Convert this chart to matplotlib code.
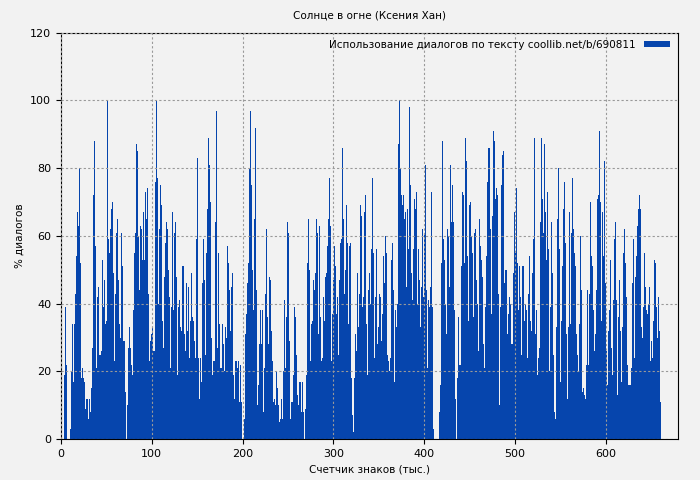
import numpy as np
import matplotlib.pyplot as plt

# in four strips, left to right (% of dialogues)
part1 = [0, 0, 0, 19, 39, 22, 0, 0, 0, 3, 20, 34, 17, 34, 43, 54, 67, 63, 80, 52,
         18, 21, 18, 17, 9, 12, 12, 6, 12, 8, 15, 27, 72, 88, 57, 21, 42, 45, 25, 25,
         26, 53, 39, 47, 34, 35, 100, 59, 55, 62, 68, 70, 49, 23, 43, 61, 65, 47, 34, 30,
         61, 51, 29, 29, 14, 0, 10, 27, 33, 27, 22, 19, 38, 55, 61, 87, 85, 60, 44, 63,
         62, 53, 67, 53, 73, 65, 74, 43, 23, 29, 31, 33, 26, 26, 76, 100, 77, 40, 62, 75,
         69, 35, 27, 48, 58, 64, 62, 50, 42, 21, 39, 67, 38, 61, 64, 48, 19, 39, 41, 33,
         32, 51, 51, 31, 26, 46, 32, 45, 24, 35, 49, 36, 35, 29, 24, 59, 83, 24, 12, 24,
         17, 46, 59, 47, 25, 55, 65, 68, 89, 81, 70]
part2 = [30, 19, 23, 23, 64, 97, 27, 55, 34, 21, 21, 34, 28, 20, 33, 30, 57, 52, 44, 32,
         45, 49, 19, 12, 23, 23, 21, 23, 11, 22, 11, 0, 0, 6, 31, 37, 46, 52, 80, 97,
         75, 50, 38, 65, 92, 44, 10, 16, 28, 38, 28, 38, 8, 21, 43, 62, 36, 28, 48, 47,
         32, 23, 11, 12, 10, 20, 15, 10, 5, 6, 12, 6, 20, 41, 21, 36, 64, 61, 29, 6,
         11, 11, 19, 39, 36, 25, 13, 10, 17, 17, 8, 17, 8, 0, 9, 19, 52, 65, 50, 23,
         34, 35, 47, 44, 49, 65, 61, 31, 63, 36, 23, 24, 42, 35, 48, 49, 57, 65, 77, 63,
         23, 37, 47, 57, 51, 37, 42, 25, 47, 58, 59, 86, 65, 43, 50, 69, 58, 34, 57, 58]
part3 = [18, 7, 2, 18, 31, 26, 49, 33, 43, 69, 66, 39, 42, 67, 72, 34, 19, 44, 49, 40,
         56, 77, 55, 24, 42, 56, 28, 33, 43, 42, 29, 37, 54, 46, 60, 55, 25, 23, 20, 24,
         53, 58, 44, 17, 38, 33, 40, 87, 100, 80, 72, 69, 72, 65, 67, 45, 68, 56, 98, 75,
         49, 41, 56, 71, 68, 73, 40, 56, 47, 33, 45, 62, 42, 61, 81, 44, 21, 41, 39, 45,
         73, 39, 3, 0, 0, 0, 0, 0, 8, 16, 52, 88, 59, 53, 40, 31, 62, 60, 45, 81,
         64, 75, 64, 38, 12, 0, 18, 36, 22, 22, 51, 73, 72, 52, 89, 82, 54, 35, 69, 70,
         60, 55, 36, 61, 62, 47, 40, 26, 65, 57, 53, 48, 28, 21, 39, 54, 76, 86, 86, 62,
         37, 66, 91, 88, 71, 74, 72, 43, 10, 39, 75, 84, 85, 46, 50]
part4 = [50, 31, 37, 42, 40, 28, 28, 49, 67, 55, 74, 52, 38, 51, 42, 25, 51, 51, 35, 40,
         38, 24, 43, 54, 35, 32, 49, 59, 89, 31, 38, 19, 24, 27, 64, 89, 71, 61, 87, 67,
         53, 73, 56, 20, 39, 64, 49, 25, 8, 6, 33, 65, 80, 56, 17, 35, 51, 68, 76, 58,
         31, 12, 33, 67, 34, 30, 61, 77, 62, 55, 51, 31, 25, 20, 34, 60, 44, 14, 15, 13,
         12, 22, 44, 22, 43, 70, 54, 51, 38, 26, 31, 44, 71, 72, 91, 70, 35, 67, 54, 82,
         46, 26, 16, 32, 38, 53, 27, 19, 41, 59, 64, 41, 13, 36, 47, 32, 17, 33, 55, 62,
         52, 42, 22, 16, 16, 16, 21, 46, 59, 24, 48, 54, 63, 68, 72, 68, 33, 30, 39, 55,
         45, 38, 37, 40, 45, 23, 29, 24, 35, 53, 52, 39, 30, 42, 32, 11]

vals = np.array(part1 + part2 + part3 + part4, dtype=float)
x = np.linspace(0, 661, len(vals), endpoint=False)
w = 661 / len(vals)

bg = '#f2f2f2'
fig, ax = plt.subplots(figsize=(7, 4.8), dpi=100)
fig.patch.set_facecolor(bg)
ax.set_facecolor(bg)
ax.bar(x, vals, width=w, align='edge', color='#0645ad', linewidth=0,
       label='Использование диалогов по тексту coollib.net/b/690811')
ax.set_xlim(0, 679)
ax.set_ylim(0, 120)
ax.set_xticks(range(0, 700, 100))
ax.set_yticks(range(0, 121, 20))
ax.tick_params(labelsize=8)
ax.grid(True, color='#999999', linestyle=(0, (2, 2)), linewidth=0.8)
ax.set_axisbelow(False)
ax.set_title('Солнце в огне (Ксения Хан)', fontsize=7.5, pad=10)
ax.set_xlabel('Счетчик знаков (тыс.)', fontsize=7.5)
ax.set_ylabel('% диалогов', fontsize=7.5)
ax.legend(loc='upper right', frameon=False, fontsize=7.5, markerfirst=False,
          handlelength=2.5, handleheight=0.5, borderaxespad=0.3)
fig.subplots_adjust(left=0.087, right=0.968, top=0.932, bottom=0.085)
fig.savefig('out.png')
